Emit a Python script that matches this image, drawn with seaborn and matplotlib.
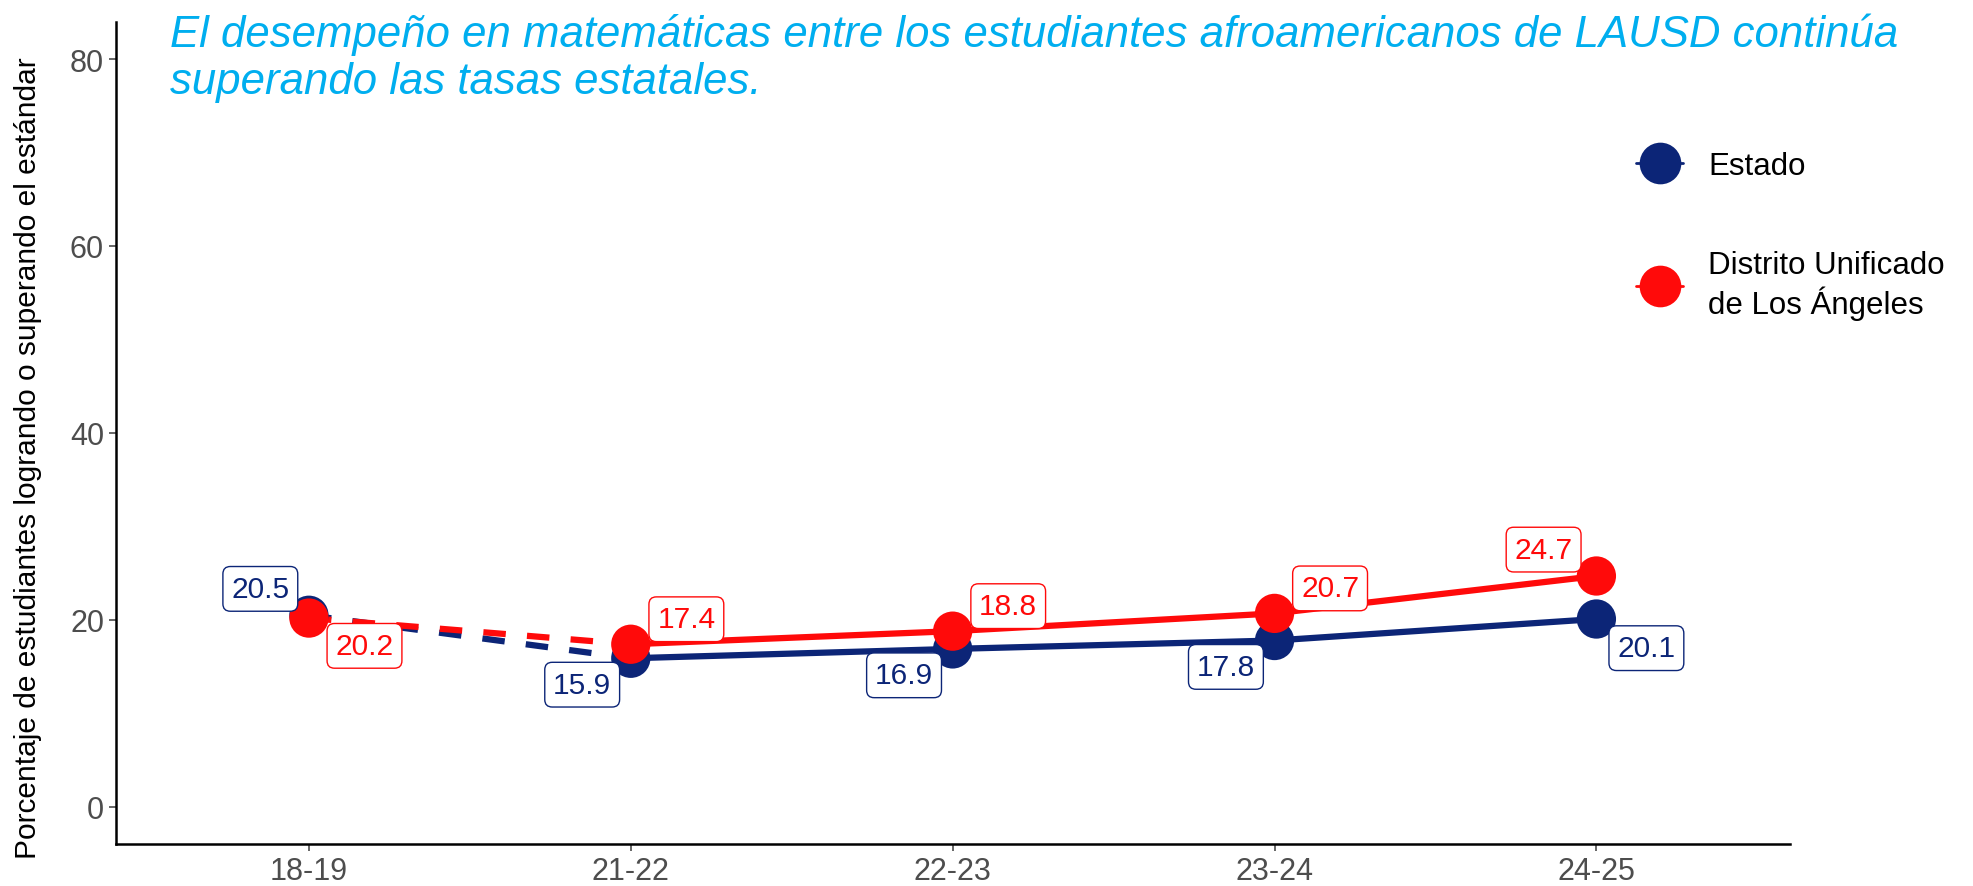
import matplotlib
matplotlib.use("Agg")
import matplotlib.pyplot as plt
import seaborn as sns
import pandas as pd
from matplotlib.lines import Line2D

# ---- data ----
years = ["18-19", "21-22", "22-23", "23-24", "24-25"]
estado = [20.5, 15.9, 16.9, 17.8, 20.1]
lausd = [20.2, 17.4, 18.8, 20.7, 24.7]
series_names = ["Estado", "Distrito Unificado\nde Los Ángeles"]
title = ("El desempeño en matemáticas entre los estudiantes afroamericanos de LAUSD continúa\n"
         "superando las tasas estatales.")
ylabel = "Porcentaje de estudiantes logrando o superando el estándar"
yticks = [0, 20, 40, 60, 80]

NAVY = "#0C2577"
RED = "#FF0A0A"
CYAN = "#00AEEF"
colors = {series_names[0]: NAVY, series_names[1]: RED}

sns.set_theme(style="white")
plt.rcParams["font.family"] = ["Liberation Sans", "DejaVu Sans"]

rows = []
for name, vals in zip(series_names, [estado, lausd]):
    for i, (y, v) in enumerate(zip(years, vals)):
        rows.append({"grupo": name, "pos": i, "year": y, "val": v})
df = pd.DataFrame(rows)

fig = plt.figure(figsize=(19.73, 8.87), dpi=100)
ax = fig.add_axes([0.0587, 0.047, 0.8483, 0.9275])

# lines: dashed first segment, solid afterwards
for name in series_names:
    sub = df[df.grupo == name]
    sns.lineplot(data=sub[sub.pos <= 1], x="pos", y="val", ax=ax, color=colors[name],
                 linewidth=4.5, linestyle=(0, (3.6, 3.4)), legend=False, zorder=2)
    sns.lineplot(data=sub[sub.pos >= 1], x="pos", y="val", ax=ax, color=colors[name],
                 linewidth=4.5, linestyle="-", legend=False, zorder=2)

for name in series_names:
    sub = df[df.grupo == name]
    sns.scatterplot(data=sub, x="pos", y="val", ax=ax, color=colors[name], s=800,
                    edgecolor="none", legend=False, zorder=3)

# labels (offsets in points)
offs_estado = [(-35, 19), (-35, -19), (-35, -19), (-35, -19), (36, -21)]
offs_lausd = [(40, -20), (40, 18), (40, 18), (40, 18), (-38, 19)]
for name, vals, offs in [(series_names[0], estado, offs_estado), (series_names[1], lausd, offs_lausd)]:
    c = colors[name]
    for i, (v, o) in enumerate(zip(vals, offs)):
        ax.annotate(f"{v:.1f}", xy=(i, v), xytext=o, textcoords="offset points",
                    ha="center", va="center", fontsize=21.5, color=c, zorder=5,
                    bbox=dict(boxstyle="round,pad=0.28,rounding_size=0.25", fc="white", ec=c, lw=1.0))

ax.set_xlim(-0.6, 4.6)
ax.set_ylim(-4, 84)
ax.set_xticks(range(len(years)))
ax.set_xticklabels(years)
ax.set_yticks(yticks)
ax.tick_params(axis="both", labelsize=22, colors="#4D4D4D", length=5, width=1.2,
               direction="out", bottom=True, left=True)
for lab in ax.get_xticklabels() + ax.get_yticklabels():
    lab.set_color("#4D4D4D")
ax.set_xlabel("")
ax.set_ylabel(ylabel, fontsize=21.5, color="black")
ax.yaxis.set_label_coords(-0.044, 0.47)
for s in ["top", "right"]:
    ax.spines[s].set_visible(False)
for s in ["left", "bottom"]:
    ax.spines[s].set_color("black")
    ax.spines[s].set_linewidth(1.8)

fig.text(0.086, 0.985, title, ha="left", va="top", fontsize=31.5, style="italic",
         color=CYAN, linespacing=1.2)

handles = [Line2D([0], [0], color=colors[n], lw=2, marker="o", markersize=30,
                  markeredgewidth=0) for n in series_names]
leg = fig.legend(handles, series_names, loc="upper left", bbox_to_anchor=(0.815, 0.86),
                 bbox_transform=fig.transFigure, frameon=False, fontsize=22.5,
                 handlelength=1.5, labelspacing=2.2, handletextpad=0.8)
for t in leg.get_texts():
    t.set_color("black")

fig.savefig("out.png", dpi=100)
